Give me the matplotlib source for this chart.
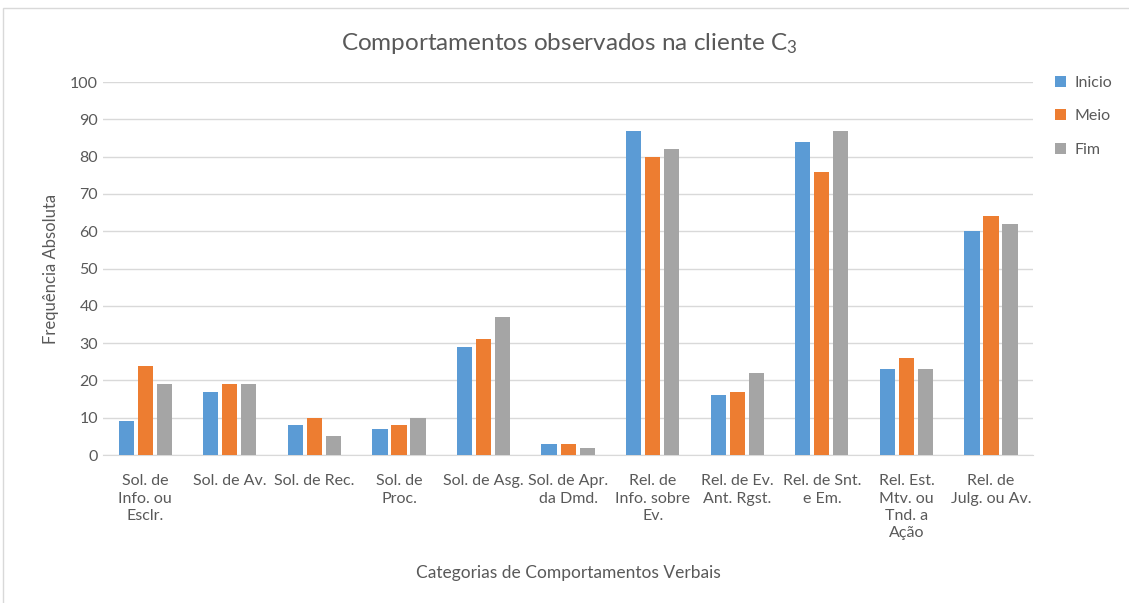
import numpy as np
import matplotlib.pyplot as plt
from matplotlib.patches import Rectangle

plt.rcParams['font.family'] = ['Lato', 'DejaVu Sans']
plt.rcParams['mathtext.fontset'] = 'custom'
plt.rcParams['mathtext.rm'] = 'Lato'
plt.rcParams['mathtext.it'] = 'Lato'

categories = ["Sol. de\nInfo. ou\nEsclr.", "Sol. de Av.", "Sol. de Rec.", "Sol. de\nProc.",
              "Sol. de Asg.", "Sol. de Apr.\nda Dmd.", "Rel. de\nInfo. sobre\nEv.",
              "Rel. de Ev.\nAnt. Rgst.", "Rel. de Snt.\ne Em.", "Rel. Est.\nMtv. ou\nTnd. a\nAção",
              "Rel. de\nJulg. ou Av."]
inicio = [9, 17, 8, 7, 29, 3, 87, 16, 84, 23, 60]
meio = [24, 19, 10, 8, 31, 3, 80, 17, 76, 26, 64]
fim = [19, 19, 5, 10, 37, 2, 82, 22, 87, 23, 62]
series = [("Inicio", inicio, "#5B9BD5"), ("Meio", meio, "#ED7D31"), ("Fim", fim, "#A5A5A5")]

txt = "#595959"
fig = plt.figure(figsize=(11.29, 6.03), dpi=100)
fig.patches.append(Rectangle((0.003, -0.01), 1.2, 0.997, transform=fig.transFigure,
                             fill=False, edgecolor="#D9D9D9", lw=1))
ax = fig.add_axes([0.0912, 0.2454, 0.824, 0.6186])

x = np.arange(len(categories))
w = 0.18
step = 0.225
for i, (name, vals, col) in enumerate(series):
    ax.bar(x + (i - 1) * step, vals, w, color=col, label=name, zorder=3)

ax.set_xlim(-0.5, len(categories) - 0.5)
ax.set_ylim(0, 100)
ax.set_yticks(range(0, 101, 10))
ax.grid(axis="y", color="#D9D9D9", lw=1, zorder=0)
for s in ["top", "right", "left"]:
    ax.spines[s].set_visible(False)
ax.spines["bottom"].set_color("#D9D9D9")
ax.tick_params(axis="both", length=0, colors=txt, labelsize=11.5)
ax.tick_params(axis="x", pad=14)
ax.set_xticks(x)
ax.set_xticklabels(categories, color=txt, fontsize=11.5, linespacing=1.3)

ax.set_ylabel("Frequência Absoluta", color=txt, fontsize=12, labelpad=8)
ax.set_xlabel("Categorias de Comportamentos Verbais", color=txt, fontsize=12.5, labelpad=18)
fig.text(0.504, 0.928, r"Comportamentos observados na cliente C$_3$", ha="center", va="center",
         color=txt, fontsize=17.5)

ax.legend(loc="upper left", bbox_to_anchor=(1.008, 1.055), frameon=False, fontsize=11.5,
          labelcolor=txt, handlelength=0.7, handleheight=0.7, handletextpad=0.5,
          labelspacing=1.2)

fig.savefig("out.png", dpi=100)
